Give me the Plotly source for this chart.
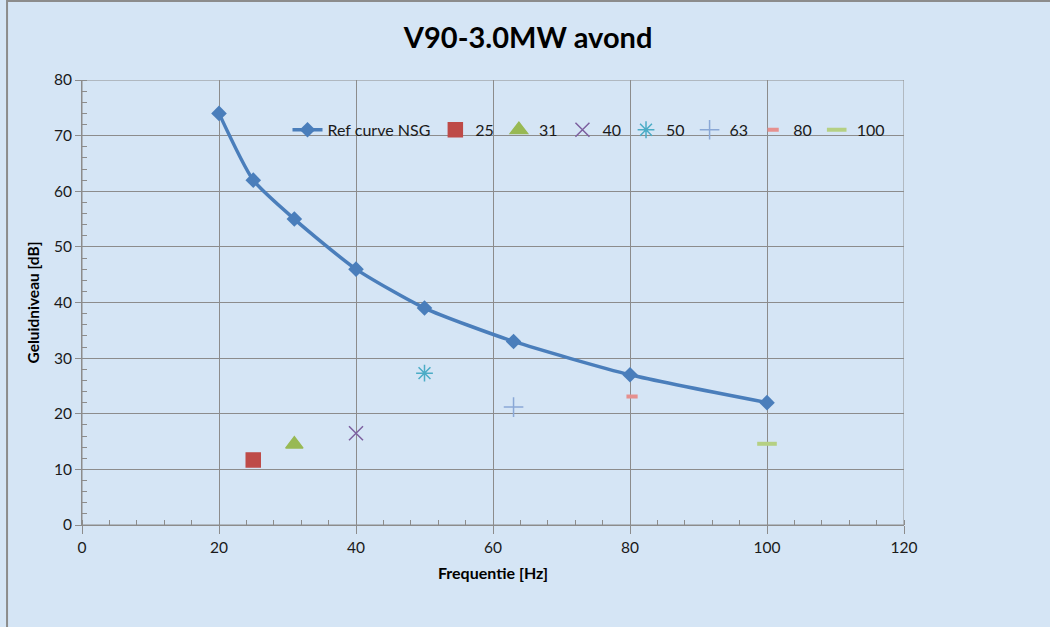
import plotly.graph_objects as go

# Data
ref_freq = [20, 25, 31, 40, 50, 63, 80, 100]
ref_level = [74, 62, 55, 46, 39, 33, 27, 22]

meas_names = ["25", "31", "40", "50", "63", "80", "100"]
meas_freq = [25, 31, 40, 50, 63, 80.3, 100]
meas_level = [11.7, 14.5, 16.5, 27.3, 21.2, 23.1, 14.6]

meas_symbols = ["square", "triangle-up", "x-thin-open", "asterisk-open",
                "cross-thin-open", "line-ew-open", "line-ew-open"]
meas_colors = ["#be4b48", "#98b954", "#7d60a0", "#4bacc6", "#8aa8d6", "#e6908e", "#b5d083"]
meas_sizes = [14, 15, 14, 14, 14, 8, 14]

FONT = "Lato, Open Sans, sans-serif"

fig = go.Figure()
fig.add_trace(go.Scatter(
    x=ref_freq, y=ref_level, name="Ref curve NSG", mode="lines+markers",
    line=dict(color="#4a7ebb", width=3.5, shape="spline", smoothing=0.6),
    marker=dict(symbol="diamond", size=12, color="#4a7ebb"),
))
for n, xv, yv, s, c, sz in zip(meas_names, meas_freq, meas_level, meas_symbols, meas_colors, meas_sizes):
    fig.add_trace(go.Scatter(
        x=[xv], y=[yv], name=n, mode="markers",
        marker=dict(symbol=s, size=sz, color=c, line=dict(color=c, width=4 if "line" in s else 1.5)),
    ))

grid = "#8c8c8c"
fig.update_layout(
    width=1050, height=627,
    paper_bgcolor="#d5e5f5", plot_bgcolor="rgba(0,0,0,0)",
    margin=dict(l=82, r=146, t=80, b=102),
    font=dict(family=FONT, size=15, color="#1a1a1a"),
    title=dict(text="<b>V90-3.0MW avond</b>", x=0.503, xanchor="center", y=0.94, yanchor="middle",
               font=dict(family=FONT, size=29, color="#000000")),
    showlegend=True,
    legend=dict(orientation="h", x=0.25, xanchor="left", y=0.888, yanchor="middle",
                bgcolor="rgba(0,0,0,0)", font=dict(size=16, color="#1a1a1a"),
                itemwidth=30, tracegroupgap=0),
    xaxis=dict(range=[0, 120], dtick=20, showgrid=True, gridcolor=grid, gridwidth=1,
               showline=True, linecolor=grid, linewidth=1, ticks="outside", ticklen=8,
               tickcolor=grid, zeroline=False, mirror=False, tickfont=dict(size=15.5),
               minor=dict(dtick=4, ticks="inside", ticklen=5, tickcolor=grid, showgrid=False),
               title=dict(text="<b>Frequentie [Hz]</b>", font=dict(size=16, color="#000000"), standoff=13)),
    yaxis=dict(range=[0, 80], dtick=10, showgrid=True, gridcolor=grid, gridwidth=1,
               showline=True, linecolor=grid, linewidth=1, ticks="outside", ticklen=6,
               tickcolor=grid, zeroline=False, tickfont=dict(size=15.5),
               minor=dict(dtick=2, ticks="inside", ticklen=5, tickcolor=grid, showgrid=False),
               title=dict(text="<b>Geluidniveau [dB]</b>", font=dict(size=15.5, color="#000000"), standoff=10)),
)
# right and top plot border
fig.add_shape(type="rect", xref="x", yref="y", x0=0, x1=120, y0=0, y1=80,
              line=dict(color=grid, width=1), layer="below")
# outer frame lines (left/top)
fig.add_shape(type="line", xref="paper", yref="paper", x0=-0.0912, x1=-0.0912, y0=-0.25, y1=1.2,
              line=dict(color="#8c8c8c", width=2))
fig.add_shape(type="line", xref="paper", yref="paper", x0=-0.0912, x1=1.2, y0=1.1775, y1=1.1775,
              line=dict(color="#8c8c8c", width=2))

fig.write_html("out.html")
